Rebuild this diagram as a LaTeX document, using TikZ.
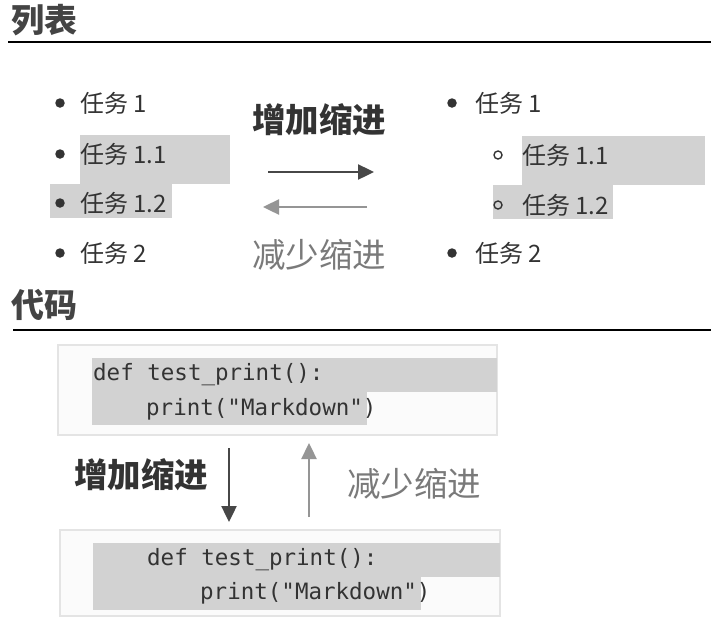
\documentclass[tikz,border=0pt]{standalone}
\usepackage{fontspec}
\setmainfont{Noto Sans CJK SC}
\setmonofont{DejaVu Sans Mono}
\usetikzlibrary{arrows.meta}
\definecolor{txt}{HTML}{333333}
\definecolor{headc}{HTML}{444444}
\definecolor{lite}{HTML}{7A7A7A}
\definecolor{hl}{HTML}{D2D2D2}
\definecolor{boxbd}{HTML}{E4E4E4}
\definecolor{boxfill}{HTML}{FBFBFB}
\tikzset{
  heading/.style={anchor=west,inner sep=0pt,text=headc,font=\fontsize{33}{33}\selectfont\bfseries},
  item/.style={anchor=west,inner sep=0pt,text=txt,font=\fontsize{24}{24}\selectfont},
  lab/.style={inner sep=0pt,font=\fontsize{33.5}{33.5}\selectfont},
  boldlab/.style={lab,text=txt,font=\fontsize{33.5}{33.5}\selectfont\bfseries},
  code/.style={anchor=west,inner sep=0pt,text=txt,font=\fontsize{22.5}{22.5}\selectfont\ttfamily},
  hlbox/.style={fill=hl,draw=none},
  codebox/.style={fill=boxfill,draw=boxbd,line width=1.2pt},
  dot/.style={circle,fill=txt,inner sep=0pt,minimum size=9.5pt},
  ring/.style={circle,draw=txt,line width=1.4pt,inner sep=0pt,minimum size=8pt},
  darr/.style={draw=txt!90,line width=2.4pt,-{Triangle[length=16pt,width=15pt]}},
  larr/.style={draw=lite!80,line width=2.4pt,-{Triangle[length=16pt,width=15pt]}},
  rule/.style={draw=black,line width=2.2pt}
}
\begin{document}
\begin{tikzpicture}[x=1pt,y=-1pt]
\useasboundingbox (0,0) rectangle (711,619);
\fill[white] (0,0) rectangle (711,619);

% ---------- List section ----------
\node[heading] (h1) at (11,20) {列表};
\coordinate (r1a) at (8,42);
\coordinate (r1b) at (711,42);
\draw[rule] (r1a) -- (r1b);

% left list highlights
\fill[hlbox] (80,135) rectangle (230,184);
\fill[hlbox] (50,184) rectangle (172,218);
% left list
\node[dot] (lb1) at (60,103) {};
\node[dot] (lb2) at (60,154) {};
\node[dot] (lb3) at (60,203) {};
\node[dot] (lb4) at (60,253) {};
\node[item] (l1) at (80,103) {任务 1};
\node[item] (l2) at (80,154) {任务 1.1};
\node[item] (l3) at (80,203) {任务 1.2};
\node[item] (l4) at (80,253) {任务 2};

% middle labels and arrows
\node[boldlab] (inc1) at (319,120) {增加缩进};
\node[lab,text=lite] (dec1) at (319,255) {减少缩进};
\coordinate (ra) at (268,172);
\coordinate (rb) at (374,172);
\draw[darr] (ra) -- (rb);
\coordinate (la) at (367,207);
\coordinate (lb) at (263,207);
\draw[larr] (la) -- (lb);

% right list highlights
\fill[hlbox] (522,136) rectangle (705,185);
\fill[hlbox] (493,185) rectangle (613,219);
% right list
\node[dot] (rb1) at (452,103) {};
\node[ring] (rc2) at (498,155) {};
\node[ring] (rc3) at (498,205) {};
\node[dot] (rb4) at (452,253) {};
\node[item] (r1) at (475,103) {任务 1};
\node[item] (r2) at (522,155) {任务 1.1};
\node[item] (r3) at (522,205) {任务 1.2};
\node[item] (r4) at (475,253) {任务 2};

% ---------- Code section ----------
\node[heading] (h2) at (11,305) {代码};
\coordinate (r2a) at (13,330);
\coordinate (r2b) at (711,330);
\draw[rule] (r2a) -- (r2b);

% code box 1
\draw[codebox] (58,345) rectangle (497,435);
\fill[hlbox] (92,358) rectangle (497,392);
\fill[hlbox] (92,392) rectangle (367,425);
\node[code] (c1a) at (93,375) {def test\_print():};
\node[code] (c1b) at (146,409) {print("Markdown")};

% vertical arrows
\node[boldlab,anchor=west] (inc2) at (74,475) {增加缩进};
\node[lab,anchor=west,text=lite] (dec2) at (347,484) {减少缩进};
\coordinate (da) at (229,448);
\coordinate (db) at (229,522);
\draw[darr] (da) -- (db);
\coordinate (ua) at (309,517);
\coordinate (ub) at (309,443);
\draw[larr] (ua) -- (ub);

% code box 2
\draw[codebox] (60,530) rectangle (500,616);
\fill[hlbox] (93,543) rectangle (500,577);
\fill[hlbox] (93,577) rectangle (421,610);
\node[code] (c2a) at (147,560) {def test\_print():};
\node[code] (c2b) at (200,593) {print("Markdown")};
\end{tikzpicture}
\end{document}
